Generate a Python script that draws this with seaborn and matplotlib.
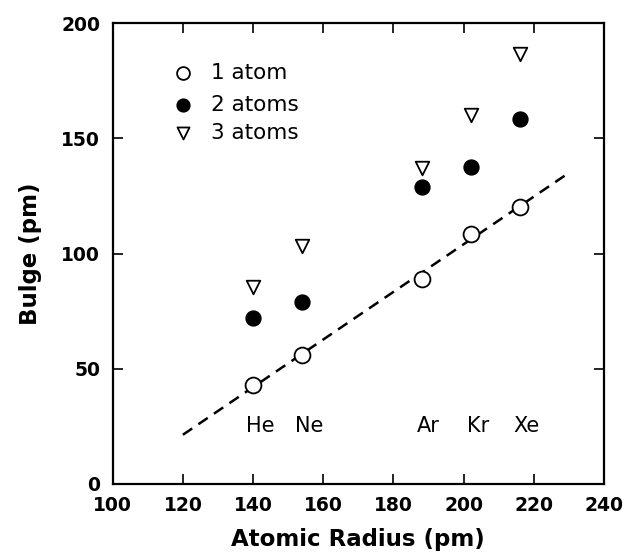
import numpy as np
import pandas as pd
import matplotlib
matplotlib.use("Agg")
import matplotlib.pyplot as plt
import seaborn as sns

# Noble gas atomic radii (pm) and the bulge produced by 1, 2 and 3 atoms
elements = ["He", "Ne", "Ar", "Kr", "Xe"]
radius = [140, 154, 188, 202, 216]
bulge_1 = [43.0, 56.0, 89.0, 108.6, 120.4]
bulge_2 = [72.1, 79.0, 128.8, 137.8, 158.4]
bulge_3 = [85.5, 103.3, 137.1, 160.2, 186.7]
series_labels = ["1 atom", "2 atoms", "3 atoms"]

x_ticks = [100, 120, 140, 160, 180, 200, 220, 240]
y_ticks = [0, 50, 100, 150, 200]

sns.set_style("ticks")
plt.rcParams["font.family"] = ["DejaVu Sans"]
plt.rcParams["text.color"] = "black"
plt.rcParams["axes.labelcolor"] = "black"

fig = plt.figure(figsize=(6.23, 5.59), dpi=100)
ax = fig.add_axes([0.1809, 0.1342, 0.7886, 0.8241])

df = pd.DataFrame({"radius": radius, "b1": bulge_1, "b2": bulge_2, "b3": bulge_3})

# least-squares line through the single-atom bulges
slope, intercept = np.polyfit(radius, bulge_1, 1)
fit_x = np.array([120, 230])
sns.lineplot(x=fit_x, y=slope * fit_x + intercept, ax=ax, color="black",
             lw=1.8, linestyle=(0, (4.5, 3)), zorder=1)

sns.scatterplot(data=df, x="radius", y="b1", ax=ax, marker="o", s=130,
                facecolor="white", edgecolor="black", linewidth=1.3, zorder=3)
sns.scatterplot(data=df, x="radius", y="b2", ax=ax, marker="o", s=115,
                color="black", edgecolor="black", linewidth=1, zorder=3)
sns.scatterplot(data=df, x="radius", y="b3", ax=ax, marker="v", s=95,
                facecolor="white", edgecolor="black", linewidth=1.3, zorder=3)

for el, r in zip(elements, radius):
    ax.text(r + 2, 25, el, ha="center", va="center", fontsize=15)

# legend drawn by hand in the upper-left corner
leg_y = [178.5, 164.5, 152.5]
ax.scatter([120], [leg_y[0]], marker="o", s=85, facecolor="white", edgecolor="black", linewidth=1.3)
ax.scatter([120], [leg_y[1]], marker="o", s=85, color="black")
ax.scatter([120], [leg_y[2]], marker="v", s=75, facecolor="white", edgecolor="black", linewidth=1.3)
for yy, lab in zip(leg_y, series_labels):
    ax.text(128, yy, lab, ha="left", va="center", fontsize=15.5)

ax.set_xlim(100, 240)
ax.set_ylim(0, 200)
ax.set_xticks(x_ticks)
ax.set_yticks(y_ticks)
ax.tick_params(direction="in", length=7, width=1.2, top=True, right=True,
               labelsize=13.5, pad=9, colors="black")
for lab in ax.get_xticklabels() + ax.get_yticklabels():
    lab.set_fontweight("bold")
for sp in ax.spines.values():
    sp.set_visible(True)
    sp.set_linewidth(1.6)
    sp.set_color("black")

ax.set_xlabel("Atomic Radius (pm)", fontsize=16.5, fontweight="bold", labelpad=9)
ax.set_ylabel("Bulge (pm)", fontsize=16.5, fontweight="bold", labelpad=14)

fig.savefig("out.png", dpi=100)
